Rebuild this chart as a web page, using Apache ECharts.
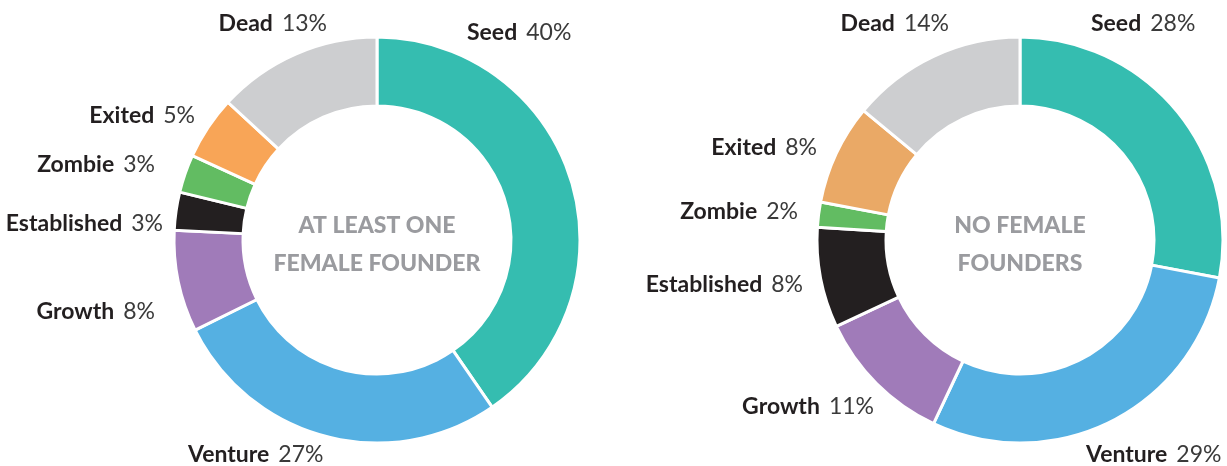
<!DOCTYPE html>
<html>
<head>
<meta charset="utf-8">
<script src="https://cdn.jsdelivr.net/npm/echarts@6/dist/echarts.min.js"></script>
<style>
  html, body { margin: 0; padding: 0; background: #ffffff; }
  #chart { width: 1227px; height: 466px; }
</style>
</head>
<body>
<div id="chart"></div>
<script>
// ---- Data ----
const categories = ['Seed', 'Venture', 'Growth', 'Established', 'Zombie', 'Exited', 'Dead'];
const femaleFounderValues = [40, 27, 8, 3, 3, 5, 13];
const noFemaleFounderValues = [28, 29, 11, 8, 2, 8, 14];
const centerTitleLines = [['AT LEAST ONE', 'FEMALE FOUNDER'], ['NO FEMALE', 'FOUNDERS']];

// ---- Styles ----
const leftColors = ['#35bdb0', '#55b0e2', '#a07bb9', '#231f20', '#62bc62', '#f8a557', '#cdced0'];
const rightColors = ['#35bdb0', '#55b0e2', '#a07bb9', '#231f20', '#62bc62', '#eaa966', '#cdced0'];
const FONT = 'Lato, "Source Sans Pro", "Open Sans", sans-serif';
const centers = [[377, 240], [1020, 240]];

// label anchor positions (x, y, align) per category, for each donut
const leftLabelPos = {
  Seed: [467, 33, 'left'], Venture: [188, 455, 'left'], Growth: [155, 312, 'right'],
  Established: [163, 224, 'right'], Zombie: [155, 165, 'right'], Exited: [195, 116, 'right'],
  Dead: [327, 24, 'right']
};
const rightLabelPos = {
  Seed: [1091, 24, 'left'], Venture: [1086, 455, 'left'], Growth: [874, 407, 'right'],
  Established: [803, 285, 'right'], Zombie: [798, 212, 'right'], Exited: [817, 148, 'right'],
  Dead: [949, 24, 'right']
};

function makeSeries(values, colors, center, labelPos) {
  return {
    type: 'pie',
    center: center,
    radius: [134, 203],
    startAngle: 90,
    clockwise: true,
    avoidLabelOverlap: false,
    silent: true,
    animation: false,
    itemStyle: { borderColor: '#ffffff', borderWidth: 3 },
    labelLine: { show: false },
    label: {
      show: true,
      position: 'outside',
      formatter: function (p) { return '{n|' + p.name + '}{v|' + p.value + '%}'; },
      rich: {
        n: { fontFamily: FONT, fontWeight: 'bold', fontSize: 23, color: '#231f20' },
        v: { fontFamily: FONT, fontWeight: 'normal', fontSize: 23, color: '#3a3a3a', padding: [0, 0, 0, 9] }
      }
    },
    labelLayout: function (params) {
      const pos = labelPos[categories[params.dataIndex]];
      return { x: pos[0], y: pos[1], align: pos[2], verticalAlign: 'middle' };
    },
    data: categories.map(function (c, i) {
      return { name: c, value: values[i], itemStyle: { color: colors[i] } };
    })
  };
}

const graphics = [];
centerTitleLines.forEach(function (lines, ci) {
  lines.forEach(function (line, li) {
    graphics.push({
      type: 'text', x: centers[ci][0], y: centers[ci][1] - 14 + li * 38,
      silent: true,
      style: { text: line, align: 'center', verticalAlign: 'middle',
        font: '900 23px ' + FONT, fill: '#9a9b9f' }
    });
  });
});

const chart = echarts.init(document.getElementById('chart'), null, { renderer: 'canvas' });
chart.setOption({
  animation: false,
  backgroundColor: '#ffffff',
  graphic: graphics,
  series: [
    makeSeries(femaleFounderValues, leftColors, centers[0], leftLabelPos),
    makeSeries(noFemaleFounderValues, rightColors, centers[1], rightLabelPos)
  ]
});
</script>
</body>
</html>
